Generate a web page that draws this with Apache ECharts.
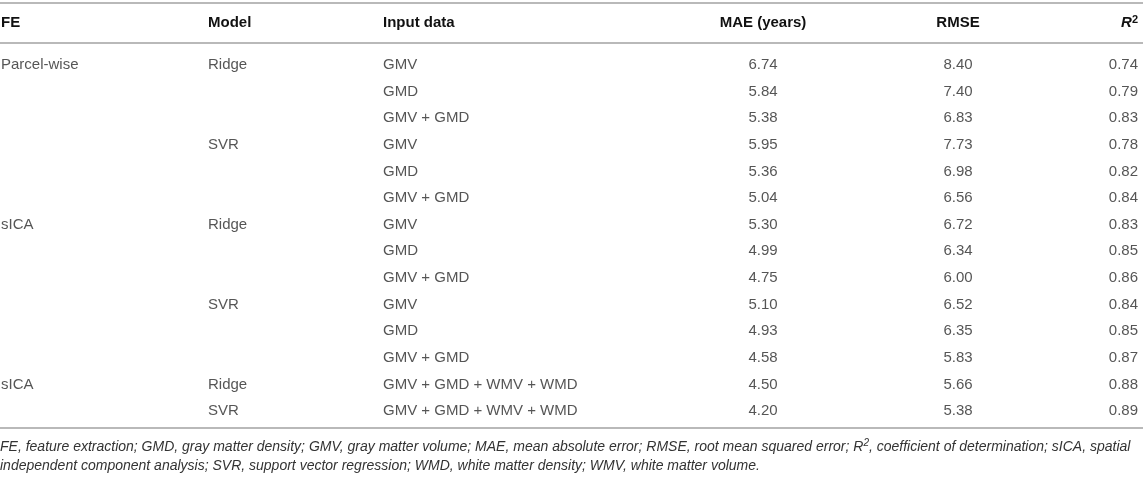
<!DOCTYPE html>
<html>
<head>
<meta charset="utf-8">
<script src="https://cdn.jsdelivr.net/npm/echarts@6/dist/echarts.min.js"></script>
<style>
html,body{margin:0;padding:0;background:#fff;}
#chart{width:1143px;height:481px;}
</style>
</head>
<body>
<div id="chart"></div>
<script>
// ---- data ----
var headers = ['FE', 'Model', 'Input data', 'MAE (years)', 'RMSE', 'R²'];
var feLabels = ['Parcel-wise', '', '', '', '', '', 'sICA', '', '', '', '', '', 'sICA', ''];
var modelLabels = ['Ridge', '', '', 'SVR', '', '', 'Ridge', '', '', 'SVR', '', '', 'Ridge', 'SVR'];
var inputLabels = ['GMV', 'GMD', 'GMV + GMD', 'GMV', 'GMD', 'GMV + GMD',
                   'GMV', 'GMD', 'GMV + GMD', 'GMV', 'GMD', 'GMV + GMD',
                   'GMV + GMD + WMV + WMD', 'GMV + GMD + WMV + WMD'];
var maeValues = [6.74, 5.84, 5.38, 5.95, 5.36, 5.04, 5.30, 4.99, 4.75, 5.10, 4.93, 4.58, 4.50, 4.20];
var rmseValues = [8.40, 7.40, 6.83, 7.73, 6.98, 6.56, 6.72, 6.34, 6.00, 6.52, 6.35, 5.83, 5.66, 5.38];
var r2Values = [0.74, 0.79, 0.83, 0.78, 0.82, 0.84, 0.83, 0.85, 0.86, 0.84, 0.85, 0.87, 0.88, 0.89];
var footnoteLines = [
  'FE, feature extraction; GMD, gray matter density; GMV, gray matter volume; MAE, mean absolute error; RMSE, root mean squared error; {i|R}{s|2}, coefficient of determination; sICA, spatial',
  'independent component analysis; SVR, support vector regression; WMD, white matter density; WMV, white matter volume.'
];

// ---- layout (not data) ----
var W = 1143, H = 481;
var FONT = '"Liberation Sans", Arial, Helvetica, sans-serif';
var TXT = '#2b2b2b';
var RULE = '#b9b9b9';
var columns = [
  {x: 1,    pos: 'right',  align: 'left',   vals: feLabels},
  {x: 208,  pos: 'right',  align: 'left',   vals: modelLabels},
  {x: 383,  pos: 'right',  align: 'left',   vals: inputLabels},
  {x: 763,  pos: 'inside', align: 'center', vals: maeValues.map(function(v){return v.toFixed(2);})},
  {x: 958,  pos: 'inside', align: 'center', vals: rmseValues.map(function(v){return v.toFixed(2);})},
  {x: 1138, pos: 'left',   align: 'right',  vals: r2Values.map(function(v){return v.toFixed(2);})}
];
var rowIdx = feLabels.map(function(_, i){ return i; });

var series = columns.map(function(col){
  return {
    type: 'scatter',
    symbolSize: 0,
    silent: true,
    data: rowIdx.map(function(i){ return {value: [col.x, i], txt: col.vals[i]}; }),
    label: {
      show: true,
      position: col.pos,
      distance: 0,
      align: col.align,
      verticalAlign: 'middle',
      fontFamily: FONT,
      fontSize: 15,
      color: TXT,
      formatter: function(p){ return p.data.txt; }
    }
  };
});

var graphics = [];
[3, 43, 428].forEach(function(y){
  graphics.push({type: 'line', shape: {x1: 0, y1: y, x2: W, y2: y},
    style: {stroke: RULE, lineWidth: 2}, silent: true});
});
columns.forEach(function(col, k){
  var isR2 = k === 5;
  graphics.push({
    type: 'text', x: col.x, y: 23, silent: true,
    style: {
      text: isR2 ? '{i|R}{s|2}' : headers[k],
      font: 'bold 15px ' + FONT,
      fill: '#111',
      align: col.align,
      verticalAlign: 'middle',
      rich: isR2 ? {
        i: {fontStyle: 'italic', fontWeight: 'bold', fontSize: 15, fontFamily: FONT, fill: '#111'},
        s: {fontWeight: 'bold', fontSize: 11, fontFamily: FONT, fill: '#111', verticalAlign: 'top', padding: [0,0,7,0]}
      } : undefined
    }
  });
});
footnoteLines.forEach(function(t, k){
  graphics.push({
    type: 'text', x: 0, y: 447 + k * 19, silent: true,
    style: {
      text: t,
      font: 'italic 14px ' + FONT,
      fill: '#333',
      align: 'left',
      verticalAlign: 'middle',
      rich: {
        i: {fontStyle: 'italic', fontSize: 14, fontFamily: FONT, fill: '#333'},
        s: {fontStyle: 'italic', fontSize: 10, fontFamily: FONT, fill: '#333', verticalAlign: 'top', padding: [0,0,7,0]}
      }
    }
  });
});

var chart = echarts.init(document.getElementById('chart'), null, {renderer: 'canvas'});
chart.setOption({
  animation: false,
  backgroundColor: '#fff',
  grid: {left: 0, right: 0, top: 51.7, bottom: 56.7, containLabel: false},
  xAxis: {type: 'value', min: 0, max: W, show: false},
  yAxis: {type: 'category', inverse: true, data: rowIdx.map(String), show: false, boundaryGap: true},
  series: series,
  graphic: graphics
});
</script>
</body>
</html>
